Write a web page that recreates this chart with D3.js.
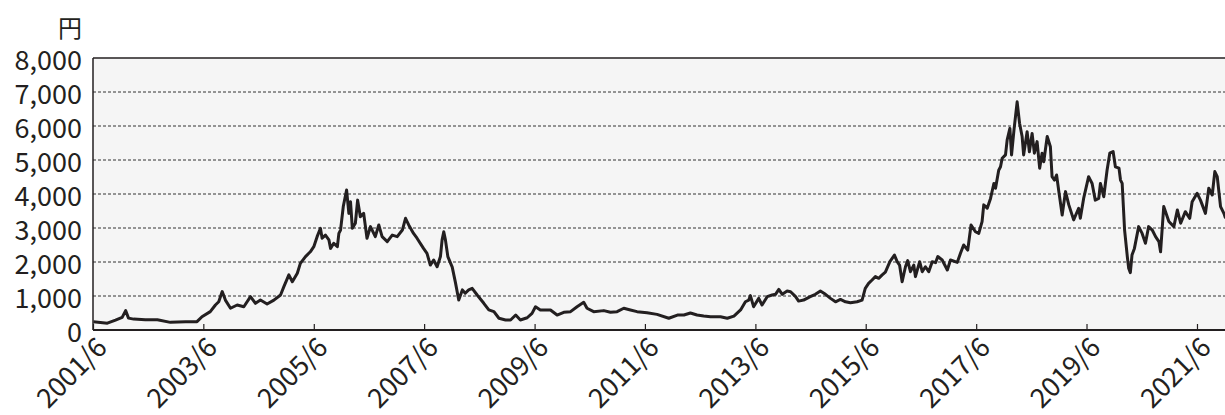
<!DOCTYPE html>
<html>
<head>
<meta charset="utf-8">
<script src="https://cdn.jsdelivr.net/npm/d3@7"></script>
<style>
  body { margin: 0; background: #fff; }
  text { font-family: "Noto Sans CJK JP", "Noto Sans", sans-serif; fill: #231f20; }
</style>
</head>
<body>
<div id="chart"></div>
<script>
// 株価の推移 (円)
var dates = [
  "2001-06-04","2001-07-20","2001-09-04","2001-10-28","2001-12-11","2002-01-03","2002-01-22","2002-02-25",
  "2002-05-13","2002-08-01","2002-10-26","2003-02-04","2003-04-20","2003-05-23","2003-07-17","2003-08-20",
  "2003-09-11","2003-10-04","2003-10-25","2003-11-28","2004-01-11","2004-02-24","2004-04-08","2004-05-11",
  "2004-06-13","2004-07-27","2004-09-10","2004-10-24","2004-11-15","2004-12-18","2005-01-10","2005-02-12",
  "2005-03-04","2005-04-07","2005-05-09","2005-06-01","2005-06-23","2005-07-15","2005-07-26","2005-08-17",
  "2005-09-09","2005-09-20","2005-10-11","2005-11-04","2005-11-14","2005-11-25","2005-12-13","2006-01-04",
  "2006-01-19","2006-01-30","2006-02-11","2006-03-03","2006-03-18","2006-04-05","2006-04-27","2006-05-19",
  "2006-06-11","2006-07-13","2006-08-05","2006-08-27","2006-09-30","2006-11-02","2006-12-05","2007-01-08",
  "2007-01-29","2007-02-19","2007-03-23","2007-04-15","2007-05-28","2007-06-20","2007-07-12","2007-08-03",
  "2007-08-26","2007-09-17","2007-09-28","2007-10-09","2007-10-20","2007-11-05","2007-12-04","2007-12-25",
  "2008-01-16","2008-02-09","2008-02-28","2008-03-22","2008-04-14","2008-05-17","2008-06-30","2008-08-02",
  "2008-09-05","2008-10-08","2008-11-21","2008-12-24","2009-01-27","2009-02-27","2009-04-13","2009-05-15",
  "2009-06-07","2009-07-09","2009-08-12","2009-09-14","2009-10-28","2009-12-11","2010-01-25","2010-03-09",
  "2010-04-22","2010-05-14","2010-06-27","2010-09-02","2010-10-16","2010-11-29","2011-01-12","2011-02-25",
  "2011-04-10","2011-06-15","2011-08-20","2011-11-06","2012-01-02","2012-02-14","2012-03-28","2012-05-11",
  "2012-06-24","2012-08-08","2012-10-13","2012-11-27","2013-01-10","2013-02-23","2013-03-27","2013-04-18",
  "2013-04-29","2013-05-20","2013-06-23","2013-07-15","2013-08-18","2013-09-20","2013-10-12","2013-11-03",
  "2013-11-26","2013-12-28","2014-01-20","2014-02-22","2014-03-14","2014-04-16","2014-05-30","2014-07-03",
  "2014-08-05","2014-09-08","2014-10-11","2014-11-13","2014-12-16","2015-01-18","2015-02-20","2015-04-05",
  "2015-05-08","2015-05-29","2015-06-20","2015-07-13","2015-08-04","2015-08-26","2015-09-18","2015-10-09",
  "2015-11-08","2015-12-08","2015-12-26","2016-01-11","2016-01-28","2016-02-19","2016-03-05","2016-03-23",
  "2016-04-14","2016-04-25","2016-05-23","2016-06-09","2016-06-30","2016-07-22","2016-08-14","2016-09-05",
  "2016-09-20","2016-10-19","2016-11-22","2016-12-13","2017-01-27","2017-02-17","2017-03-10","2017-04-06",
  "2017-04-28","2017-05-27","2017-06-18","2017-07-10","2017-07-21","2017-08-13","2017-09-04","2017-09-26",
  "2017-10-07","2017-10-28","2017-11-09","2017-11-20","2017-12-12","2017-12-23","2018-01-10","2018-01-21",
  "2018-02-06","2018-02-27","2018-03-15","2018-04-01","2018-04-11","2018-05-04","2018-05-19","2018-06-06",
  "2018-06-21","2018-07-09","2018-07-26","2018-08-11","2018-08-22","2018-09-14","2018-10-05","2018-10-16",
  "2018-11-01","2018-11-15","2018-11-30","2018-12-22","2019-01-13","2019-02-04","2019-03-08","2019-04-10",
  "2019-04-21","2019-05-13","2019-06-15","2019-07-08","2019-07-29","2019-08-21","2019-09-01","2019-09-23",
  "2019-10-15","2019-11-02","2019-11-24","2019-12-09","2020-01-02","2020-01-12","2020-01-23","2020-02-08",
  "2020-02-26","2020-03-06","2020-03-17","2020-03-28","2020-04-13","2020-05-11","2020-06-03","2020-06-25",
  "2020-07-16","2020-08-09","2020-08-31","2020-09-22","2020-10-03","2020-10-24","2020-11-27","2020-12-30",
  "2021-01-22","2021-02-13","2021-03-16","2021-04-14","2021-04-30","2021-06-02","2021-06-24","2021-07-27",
  "2021-08-18","2021-09-10","2021-09-27","2021-10-13","2021-11-04","2021-11-26","2021-12-07"
];
var prices = [
  240,220,200,290,370,570,350,320,
  300,300,225,245,245,390,540,735,
  830,1130,880,640,735,685,980,785,
  880,765,880,1030,1275,1620,1420,1670,
  1960,2160,2300,2450,2745,2990,2700,2790,
  2650,2400,2550,2450,2840,2940,3630,4120,
  3430,3770,2990,3140,3820,3330,3430,2700,
  3040,2745,3090,2745,2600,2790,2745,2940,
  3285,3090,2840,2700,2400,2255,1910,2060,
  1860,2160,2650,2890,2650,2160,1850,1400,
  880,1180,1080,1180,1225,1030,785,590,
  540,345,295,295,440,295,360,490,
  685,590,590,590,440,520,540,685,
  815,640,540,570,520,540,640,590,
  540,510,460,345,440,440,500,440,
  410,390,390,345,410,590,830,880,
  1010,685,930,735,980,1030,1050,1195,
  1050,1145,1125,980,850,880,980,1050,
  1145,1050,930,830,900,830,800,830,
  880,1225,1370,1470,1570,1520,1620,1700,
  2010,2205,2010,1910,1420,1860,2040,1715,
  1910,1570,2010,1715,1860,1715,2010,1980,
  2160,2060,1765,2060,1990,2255,2500,2350,
  3090,2890,2840,3190,3680,3580,3870,4310,
  4170,4700,4800,5050,5150,5590,5930,5150,
  5880,6710,6080,5690,5150,5830,5240,5780,
  5200,5540,4760,5200,4950,5690,5390,4510,
  4410,4560,4070,3380,4070,3680,3240,3580,
  3285,3870,4510,4310,3820,3870,4310,3920,
  4700,5200,5250,4800,4760,4410,4310,2940,
  2160,1815,1685,2205,2400,3040,2840,2550,
  3040,2940,2745,2600,2300,3630,3190,3040,
  3530,3140,3480,3285,3770,4020,3820,3430,
  4170,3970,4660,4510,3630,3430,3285
];
var tickDates = ["2001-06-01","2003-06-01","2005-06-01","2007-06-01","2009-06-01","2011-06-01",
                 "2013-06-01","2015-06-01","2017-06-01","2019-06-01","2021-06-01"];
var tickLabels = ["2001/6","2003/6","2005/6","2007/6","2009/6","2011/6",
                  "2013/6","2015/6","2017/6","2019/6","2021/6"];
var yTicks = [0,1000,2000,3000,4000,5000,6000,7000,8000];
var yTickLabels = ["0","1,000","2,000","3,000","4,000","5,000","6,000","7,000","8,000"];

var W = 1225, H = 415;
var pLeft = 93, pTop = 58, pRight = 1226, pBottom = 330;
var parse = d3.timeParse("%Y-%m-%d");
var data = dates.map(function (d, i) { return {date: parse(d), value: prices[i]}; });

var svg = d3.select("#chart").append("svg").attr("width", W).attr("height", H);

var x = d3.scaleTime()
    .domain([parse("2001-06-01"), parse("2021-12-10")])
    .range([pLeft, pRight]);
var y = d3.scaleLinear().domain([0, 8000]).range([pBottom, pTop]);

// 背景
svg.append("rect")
    .attr("x", pLeft).attr("y", pTop)
    .attr("width", W - pLeft).attr("height", pBottom - pTop)
    .attr("fill", "#f5f5f5");

// 横の点線
svg.append("g").selectAll("line")
    .data(yTicks.slice(1, -1))
    .enter().append("line")
    .attr("x1", pLeft).attr("x2", W)
    .attr("y1", function (d) { return y(d); })
    .attr("y2", function (d) { return y(d); })
    .attr("stroke", "#333")
    .attr("stroke-width", 1)
    .attr("stroke-dasharray", "3,2");

// 枠線
svg.append("line").attr("x1", pLeft).attr("x2", W).attr("y1", pTop).attr("y2", pTop)
    .attr("stroke", "#231f20").attr("stroke-width", 1.5);
svg.append("line").attr("x1", pLeft).attr("x2", pLeft).attr("y1", pTop).attr("y2", pBottom)
    .attr("stroke", "#231f20").attr("stroke-width", 1.5);

svg.append("clipPath").attr("id", "clip").append("rect")
    .attr("x", pLeft).attr("y", pTop).attr("width", W - pLeft).attr("height", pBottom - pTop);

var line = d3.line()
    .x(function (d) { return x(d.date); })
    .y(function (d) { return y(d.value); });

svg.append("path")
    .datum(data)
    .attr("clip-path", "url(#clip)")
    .attr("d", line)
    .attr("fill", "none")
    .attr("stroke", "#231f20")
    .attr("stroke-width", 3)
    .attr("stroke-linejoin", "round");

// x軸
var xAxis = d3.axisBottom(x)
    .tickValues(tickDates.map(parse))
    .tickSizeInner(-6).tickSizeOuter(0)
    .tickFormat(function (d, i) { return tickLabels[i]; });
var gx = svg.append("g").attr("transform", "translate(0," + pBottom + ")").call(xAxis);
gx.select(".domain").attr("stroke", "#231f20").attr("stroke-width", 2)
    .attr("d", "M" + pLeft + ",0H" + W);
gx.selectAll(".tick line").attr("stroke", "#231f20").attr("stroke-width", 1.2);
gx.selectAll(".tick text")
    .attr("font-size", 27)
    .attr("fill", "#231f20")
    .attr("text-anchor", "end")
    .attr("y", 0).attr("dy", 0)
    .attr("transform", "translate(7,11) rotate(-45)")
    .attr("dominant-baseline", "central");

// y軸ラベル
svg.append("g").selectAll("text")
    .data(yTicks)
    .enter().append("text")
    .attr("x", 82)
    .attr("y", function (d) { return y(d); })
    .attr("text-anchor", "end")
    .attr("dominant-baseline", "central")
    .attr("font-size", 27)
    .text(function (d, i) { return yTickLabels[i]; });

svg.append("text")
    .attr("x", 82).attr("y", 26)
    .attr("text-anchor", "end")
    .attr("dominant-baseline", "central")
    .attr("font-size", 24)
    .text("円");
</script>
</body>
</html>
